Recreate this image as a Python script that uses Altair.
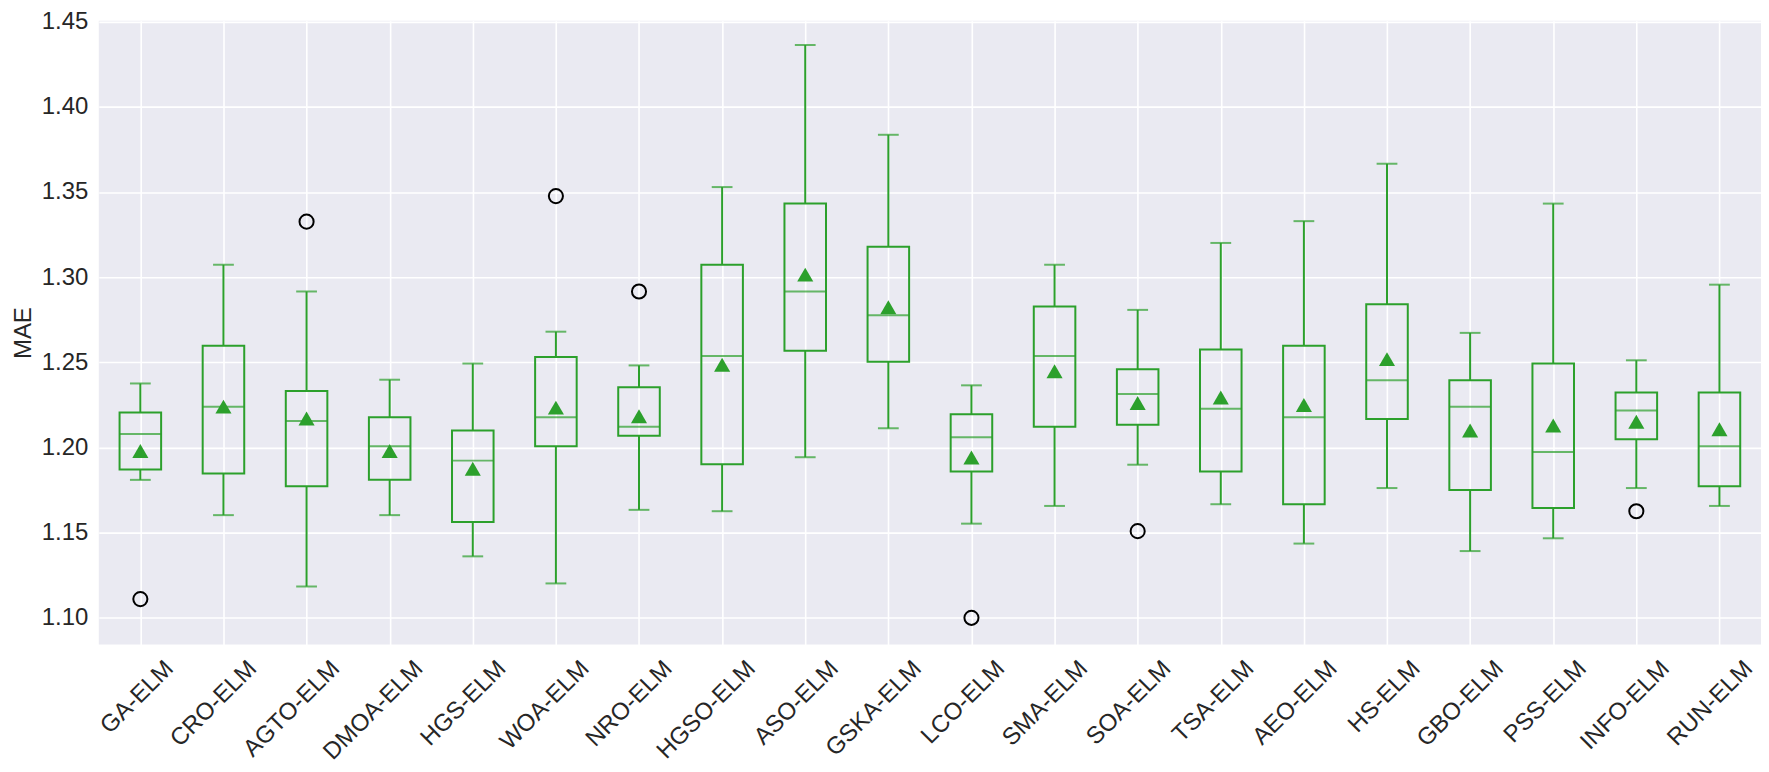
import altair as alt
import pandas as pd

names = ["GA-ELM", "CRO-ELM", "AGTO-ELM", "DMOA-ELM", "HGS-ELM", "WOA-ELM", "NRO-ELM",
         "HGSO-ELM", "ASO-ELM", "GSKA-ELM", "LCO-ELM", "SMA-ELM", "SOA-ELM", "TSA-ELM",
         "AEO-ELM", "HS-ELM", "GBO-ELM", "PSS-ELM", "INFO-ELM", "RUN-ELM"]
whis_hi = [1.2376, 1.3073, 1.2916, 1.2398, 1.2493, 1.2680, 1.2482, 1.3529, 1.4363, 1.3836,
           1.2365, 1.3073, 1.2808, 1.3201, 1.3329, 1.3666, 1.2673, 1.3432, 1.2512, 1.2956]
q3 = [1.2206, 1.2598, 1.2332, 1.2177, 1.2100, 1.2532, 1.2354, 1.3073, 1.3432, 1.3179,
      1.2195, 1.2828, 1.2459, 1.2576, 1.2598, 1.2841, 1.2395, 1.2493, 1.2323, 1.2323]
median = [1.2080, 1.2239, 1.2155, 1.2007, 1.1923, 1.2177, 1.2122, 1.2537, 1.2916, 1.2777,
          1.2060, 1.2537, 1.2314, 1.2228, 1.2177, 1.2395, 1.2239, 1.1974, 1.2217, 1.2007]
mean = [1.1980, 1.2240, 1.2170, 1.1980, 1.1875, 1.2234, 1.2184, 1.2486, 1.3015, 1.2823,
        1.1941, 1.2448, 1.2261, 1.2294, 1.2250, 1.2519, 1.2100, 1.2129, 1.2151, 1.2107]
q1 = [1.1871, 1.1848, 1.1773, 1.1810, 1.1562, 1.2007, 1.2069, 1.1901, 1.2568, 1.2504,
      1.1859, 1.2122, 1.2133, 1.1859, 1.1667, 1.2168, 1.1751, 1.1645, 1.2049, 1.1773]
whis_lo = [1.1810, 1.1603, 1.1184, 1.1603, 1.1361, 1.1202, 1.1634, 1.1626, 1.1943, 1.2113,
           1.1553, 1.1657, 1.1899, 1.1667, 1.1436, 1.1762, 1.1392, 1.1467, 1.1762, 1.1657]
outlier_names = ["GA-ELM", "AGTO-ELM", "WOA-ELM", "NRO-ELM", "LCO-ELM", "SOA-ELM", "INFO-ELM"]
outlier_vals = [1.1110, 1.3326, 1.3476, 1.2916, 1.1000, 1.1509, 1.1626]
y_ticks = [1.10, 1.15, 1.20, 1.25, 1.30, 1.35, 1.40, 1.45]

df = pd.DataFrame({"name": names, "hi": whis_hi, "q3": q3, "med": median,
                   "mean": mean, "q1": q1, "lo": whis_lo})
dfo = pd.DataFrame({"name": outlier_names, "val": outlier_vals})

GREEN = "#2ca02c"
W, H = 1666, 625
step = W / len(names)

xenc = alt.X("name:N", sort=names, title=None,
             scale=alt.Scale(type="point", padding=0.5),
             axis=alt.Axis(labelAngle=-45, labelAlign="right", labelBaseline="middle",
                           labelOffset=29, labelPadding=20, labelFontSize=24,
                           labelColor="#262626", labelFont="Liberation Sans",
                           labelOverlap=False, labelBound=False,
                           grid=True, gridColor="white", gridWidth=1.6,
                           domain=False, ticks=False))
yscale = alt.Scale(domain=[1.0844, 1.4505], nice=False, zero=False)
yaxis = alt.Axis(values=y_ticks, format=".2f", title="MAE", titleFontSize=24,
                 titleFontWeight="normal", titleFont="Liberation Sans", titleColor="#262626",
                 titlePadding=6, labelFontSize=24, labelColor="#262626",
                 labelFont="Liberation Sans", labelPadding=11, grid=True,
                 gridColor="white", gridWidth=1.6, domain=False, ticks=False)

base = alt.Chart(df)

whisk_up = base.mark_rule(color=GREEN, strokeWidth=2).encode(
    x=xenc, y=alt.Y("q3:Q", scale=yscale, axis=yaxis), y2="hi:Q")
whisk_dn = base.mark_rule(color=GREEN, strokeWidth=2).encode(
    x=xenc, y=alt.Y("lo:Q", scale=yscale, axis=yaxis), y2="q1:Q")
box = base.mark_bar(size=step * 0.5, fillOpacity=0, stroke=GREEN, strokeWidth=2).encode(
    x=xenc, y=alt.Y("q1:Q", scale=yscale, axis=yaxis), y2="q3:Q")
med_t = base.mark_tick(color=GREEN, size=step * 0.5, thickness=2).encode(
    x=xenc, y=alt.Y("med:Q", scale=yscale, axis=yaxis))
cap_hi = base.mark_tick(color=GREEN, size=step * 0.25, thickness=2).encode(
    x=xenc, y=alt.Y("hi:Q", scale=yscale, axis=yaxis))
cap_lo = base.mark_tick(color=GREEN, size=step * 0.25, thickness=2).encode(
    x=xenc, y=alt.Y("lo:Q", scale=yscale, axis=yaxis))
mean_pt = base.mark_point(shape="triangle-up", filled=True, color=GREEN, size=260,
                          opacity=1).encode(
    x=xenc, y=alt.Y("mean:Q", scale=yscale, axis=yaxis))
outl = alt.Chart(dfo).mark_point(shape="circle", filled=False, color="black", size=200,
                                 strokeWidth=2, opacity=1).encode(
    x=xenc, y=alt.Y("val:Q", scale=yscale, axis=yaxis))

chart = alt.layer(whisk_up, whisk_dn, box, med_t, cap_hi, cap_lo, mean_pt, outl).properties(
    width=W, height=H,
    autosize=alt.AutoSizeParams(type="none"),
    padding={"left": 91, "top": 12, "right": 0, "bottom": 119},
    background="white",
).configure_view(fill="#EAEAF2", stroke=None)

chart.save("out.html", embed_options={"renderer": "svg", "actions": False})
